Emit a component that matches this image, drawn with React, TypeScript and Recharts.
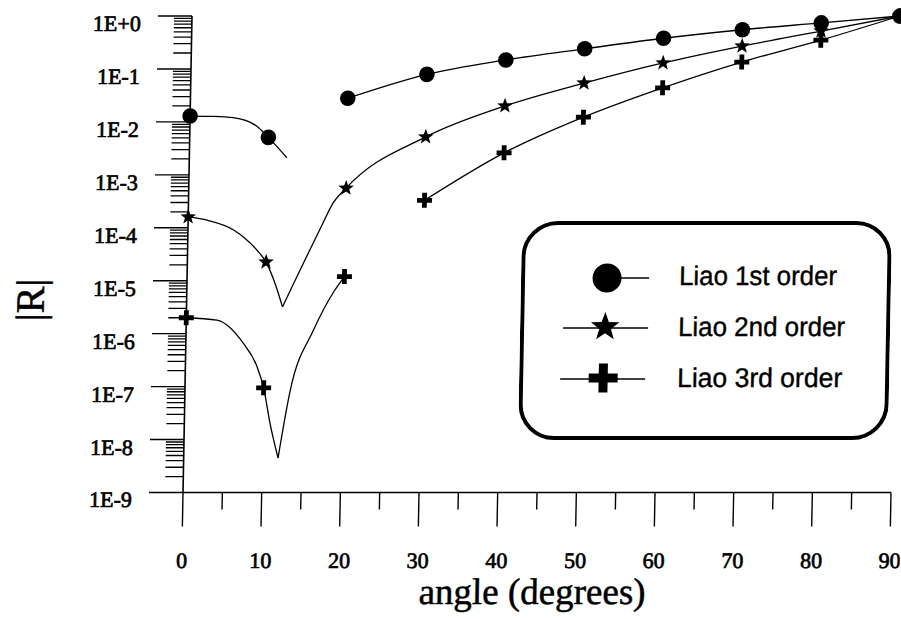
import React from 'react';
import { ComposedChart, Line, Scatter, XAxis, YAxis, Legend, Label } from 'recharts';

// Marker values of |R| at each incidence angle
const angles = [0, 10, 20, 30, 40, 50, 60, 70, 80, 90];
const liao1Values = [1.29e-2, 5.1e-3, 2.8e-2, 7.9e-2, 0.148, 0.24, 0.38, 0.55, 0.74, 1.0];
const liao2Values = [1.6e-4, 2.25e-5, 5.6e-4, 5.2e-3, 2.0e-2, 5.4e-2, 0.13, 0.27, 0.52, 1.0];
const liao3Values = [2.0e-6, 9.5e-8, 1.2e-5, 3.3e-4, 2.6e-3, 1.23e-2, 4.4e-2, 0.135, 0.35, 1.0];

// Continuous traces (split at the reflection minima and at missing ranges)
const liao1NearAngles = [0, 3, 5.5, 8.5, 10, 12.4];
const liao1NearValues = [1.29e-2, 1.27e-2, 1.2e-2, 8.3e-3, 5.1e-3, 2.1e-3];

const liao2LeftAngles = [0, 2.5, 5.8, 8.8, 10, 11.2, 12.2];
const liao2LeftValues = [1.6e-4, 1.38e-4, 9.1e-5, 3.8e-5, 2.25e-5, 8.9e-6, 3.2e-6];
const liao2RightAngles = [12.2, 13.5, 15.3, 17.0, 18.3, 20, 30, 40, 50, 60, 70, 80, 90];
const liao2RightValues = [3.2e-6, 8.5e-6, 3.2e-5, 1.1e-4, 2.8e-4, 5.6e-4, 5.2e-3, 2.0e-2, 5.4e-2, 0.13, 0.27, 0.52, 1.0];

const liao3LeftAngles = [0, 3.9, 7.3, 9.1, 10, 10.9, 12.0];
const liao3LeftValues = [2.0e-6, 1.8e-6, 6.6e-7, 2.4e-7, 9.5e-8, 2.0e-8, 4.5e-9];
const liao3RightAngles = [12.0, 13.4, 16.2, 18.8, 20];
const liao3RightValues = [4.5e-9, 8.7e-8, 1.17e-6, 6.6e-6, 1.2e-5];

// Axis ticks
const xMajorTicks = [0, 10, 20, 30, 40, 50, 60, 70, 80, 90];
const xTickLabels = ['0', '10', '20', '30', '40', '50', '60', '70', '80', '90'];
const xMinorTicks = [5, 15, 25, 35, 45, 55, 65, 75, 85];
const yMajorTicks = [1, 1e-1, 1e-2, 1e-3, 1e-4, 1e-5, 1e-6, 1e-7, 1e-8, 1e-9];
const yTickLabels = ['1E+0', '1E-1', '1E-2', '1E-3', '1E-4', '1E-5', '1E-6', '1E-7', '1E-8', '1E-9'];
const yMinorTicks = yMajorTicks.slice(1).flatMap((d) => [2, 3, 4, 5, 6, 7, 8, 9].map((k) => k * d));

const seriesNames = ['Liao 1st order', 'Liao 2nd order', 'Liao 3rd order'];

const toPoints = (xs: number[], ys: number[]) => xs.map((angle, i) => ({ angle, r: ys[i] }));

const liao1Marks = toPoints(angles, liao1Values);
const liao2Marks = toPoints(angles, liao2Values);
const liao3Marks = toPoints(angles, liao3Values);
const liao1Near = toPoints(liao1NearAngles, liao1NearValues);
const liao1Far = toPoints(angles.slice(2), liao1Values.slice(2));
const liao2Left = toPoints(liao2LeftAngles, liao2LeftValues);
const liao2Right = toPoints(liao2RightAngles, liao2RightValues);
const liao3Left = toPoints(liao3LeftAngles, liao3LeftValues);
const liao3Right = toPoints(liao3RightAngles, liao3RightValues);
const liao3Far = toPoints(angles.slice(3), liao3Values.slice(3));

const INK = '#000';
const SERIF = '"Liberation Serif", "Times New Roman", serif';
const SANS = '"Liberation Sans", Arial, sans-serif';

function starPath(cx: number, cy: number, outer: number, inner: number) {
  const pts: string[] = [];
  for (let i = 0; i < 10; i++) {
    const rad = i % 2 === 0 ? outer : inner;
    const a = -Math.PI / 2 + (i * Math.PI) / 5;
    pts.push(`${(cx + rad * Math.cos(a)).toFixed(2)},${(cy + rad * Math.sin(a)).toFixed(2)}`);
  }
  return `M${pts.join('L')}Z`;
}

function plusPath(cx: number, cy: number, half: number, thick: number) {
  const t = thick / 2;
  return (
    `M${cx - half},${cy - t}H${cx + half}V${cy + t}H${cx - half}Z` +
    `M${cx - t},${cy - half}H${cx + t}V${cy + half}H${cx - t}Z`
  );
}

const CircleMark = (p: any) => <circle cx={p.cx} cy={p.cy} r={7.8} fill={INK} />;
const StarMark = (p: any) => <path d={starPath(p.cx, p.cy, 8.2, 3.4)} fill={INK} />;
const PlusMark = (p: any) => <path d={plusPath(p.cx, p.cy, 7.5, 4.8)} fill={INK} />;

const sameLog = (a: number, b: number) => Math.abs(Math.log10(a) - Math.log10(b)) < 1e-6;

function YTick(props: any) {
  const { x, y, payload } = props;
  const idx = yMajorTicks.findIndex((t) => sameLog(t, payload.value));
  if (idx < 0) {
    return <line x1={x - 18} x2={x} y1={y} y2={y} stroke={INK} strokeWidth={1.3} />;
  }
  return (
    <g>
      <line x1={x - 34} x2={x} y1={y} y2={y} stroke={INK} strokeWidth={1.4} />
      <text
        x={x - 51}
        y={y + 15}
        textAnchor="end"
        fontFamily={SERIF}
        fontSize={22}
        fill={INK}
        stroke={INK}
        strokeWidth={0.7}
      >
        {yTickLabels[idx]}
      </text>
    </g>
  );
}

function XTick(props: any) {
  const { x, y, payload } = props;
  const idx = xMajorTicks.indexOf(payload.value);
  if (idx < 0) {
    return <line x1={x} x2={x} y1={y} y2={y + 17} stroke={INK} strokeWidth={1.4} />;
  }
  return (
    <g>
      <line x1={x} x2={x} y1={y} y2={y + 34} stroke={INK} strokeWidth={1.4} />
      <text
        x={x}
        y={y + 76}
        textAnchor="middle"
        fontFamily={SERIF}
        fontSize={22}
        fill={INK}
        stroke={INK}
        strokeWidth={0.7}
      >
        {xTickLabels[idx]}
      </text>
    </g>
  );
}

function XTitle(props: any) {
  const vb = props.viewBox || { x: 183, y: 492.5, width: 708, height: 126.5 };
  return (
    <text
      x={vb.x + vb.width / 2 - 3}
      y={vb.y + 112}
      textAnchor="middle"
      fontFamily={SERIF}
      fontSize={37}
      fill={INK}
      stroke={INK}
      strokeWidth={0.5}
    >
      angle (degrees)
    </text>
  );
}

function YTitle() {
  return (
    <text
      x={40}
      y={300}
      transform="rotate(-90 40 300)"
      textAnchor="middle"
      fontFamily={SERIF}
      fontSize={40}
      fill={INK}
      stroke={INK}
      strokeWidth={0.6}
    >
      |R|
    </text>
  );
}

function LegendBox() {
  const rows = [
    { y: 57, lineFrom: 100, lineTo: 128, mark: <circle cx={86} cy={57} r={14.5} fill={INK} /> },
    { y: 107, lineFrom: 43, lineTo: 128, mark: <path d={starPath(85, 106, 15, 6.2)} fill={INK} /> },
    { y: 158, lineFrom: 41, lineTo: 126, mark: <path d={plusPath(84, 157, 14.5, 9)} fill={INK} /> },
  ];
  const textWidths = [158, 167, 165];
  return (
    <svg width={370} height={219} style={{ display: 'block' }}>
      <rect x={2} y={2} width={366} height={215} rx={34} ry={34} fill="#fff" stroke={INK} strokeWidth={4} />
      {rows.map((row, i) => (
        <g key={seriesNames[i]}>
          <line x1={row.lineFrom} x2={row.lineTo} y1={row.y} y2={row.y} stroke={INK} strokeWidth={1.4} />
          {row.mark}
          <text
            x={158}
            y={row.y + 7.5 + i * 0.5}
            fontFamily={SANS}
            fontSize={27}
            fill={INK}
            stroke={INK}
            strokeWidth={0.4}
            textLength={textWidths[i]}
            lengthAdjust="spacingAndGlyphs"
          >
            {seriesNames[i]}
          </text>
        </g>
      ))}
    </svg>
  );
}

const lineProps = {
  dataKey: 'r',
  type: 'monotone' as const,
  stroke: INK,
  strokeWidth: 1.3,
  dot: false,
  activeDot: false,
  isAnimationActive: false,
  legendType: 'none' as const,
};

export default function App() {
  return (
    <div
      style={{
        position: 'absolute',
        left: 0,
        top: 0,
        width: 901,
        height: 619,
        background: '#fff',
        transform: 'skewX(-1.08deg)',
        transformOrigin: '0px 493px',
      }}
    >
      <ComposedChart width={901} height={619} margin={{ top: 16, right: 10, bottom: 0, left: 0 }}>
        <XAxis
          type="number"
          dataKey="angle"
          domain={[0, 90]}
          ticks={[...xMajorTicks, ...xMinorTicks].sort((a, b) => a - b)}
          interval={0}
          tickSize={0}
          tickMargin={0}
          tickLine={false}
          tick={XTick}
          axisLine={{ stroke: INK, strokeWidth: 1.6 }}
          height={126.5}
        >
          <Label content={XTitle} />
        </XAxis>
        <YAxis
          type="number"
          dataKey="r"
          scale="log"
          domain={[1e-9, 1]}
          ticks={[...yMajorTicks, ...yMinorTicks]}
          interval={0}
          tickSize={0}
          tickMargin={0}
          tickLine={false}
          tick={YTick}
          axisLine={{ stroke: INK, strokeWidth: 1.6 }}
          width={183}
        >
          <Label content={YTitle} />
        </YAxis>

        <Line {...lineProps} data={liao1Near} name="liao1-near" />
        <Line {...lineProps} data={liao1Far} name="liao1-far" />
        <Line {...lineProps} data={liao2Left} name="liao2-left" />
        <Line {...lineProps} data={liao2Right} name="liao2-right" />
        <Line {...lineProps} data={liao3Left} name="liao3-left" />
        <Line {...lineProps} data={liao3Right} name="liao3-right" />
        <Line {...lineProps} data={liao3Far} name="liao3-far" />

        <Scatter data={liao1Marks} dataKey="r" name={seriesNames[0]} shape={CircleMark} isAnimationActive={false} />
        <Scatter data={liao2Marks} dataKey="r" name={seriesNames[1]} shape={StarMark} isAnimationActive={false} />
        <Scatter data={liao3Marks} dataKey="r" name={seriesNames[2]} shape={PlusMark} isAnimationActive={false} />

        <Legend
          layout="vertical"
          align="center"
          verticalAlign="middle"
          wrapperStyle={{ left: 517, top: 221, width: 370, height: 219 }}
          content={() => <LegendBox />}
        />
      </ComposedChart>
    </div>
  );
}
